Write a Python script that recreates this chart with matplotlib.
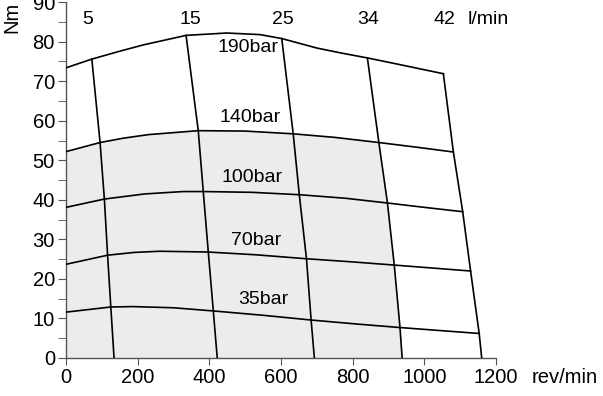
import numpy as np
import matplotlib.pyplot as plt
from matplotlib.ticker import MultipleLocator

plt.rcParams['font.family'] = ['Liberation Sans', 'DejaVu Sans']

# pressure curves: speed (rev/min) and torque (Nm)
p190_rpm = [0, 72, 150, 216, 335, 448, 541, 602, 700, 770, 841, 932, 1053]
p190_nm = [73.4, 75.6, 77.6, 79.2, 81.6, 82.2, 81.8, 80.8, 78.4, 77.1, 75.9, 74.2, 71.9]
p140_rpm = [0, 95, 160, 230, 369, 500, 634, 750, 873, 980, 1081]
p140_nm = [52.2, 54.5, 55.6, 56.5, 57.5, 57.4, 56.7, 55.8, 54.5, 53.3, 52.1]
p100_rpm = [0, 107, 220, 327, 383, 520, 651, 780, 897, 1000, 1107]
p100_nm = [38.1, 40.2, 41.5, 42.1, 42.1, 41.9, 41.3, 40.4, 39.2, 38.1, 37.0]
p70_rpm = [0, 116, 190, 262, 397, 530, 671, 800, 916, 1129]
p70_nm = [23.7, 26.0, 26.7, 27.0, 26.8, 26.1, 25.1, 24.3, 23.5, 22.0]
p35_rpm = [0, 125, 188, 300, 411, 550, 684, 810, 932, 1153]
p35_nm = [11.6, 12.9, 13.0, 12.7, 11.9, 10.8, 9.6, 8.6, 7.7, 6.2]

pressures = ['190bar', '140bar', '100bar', '70bar', '35bar']
label_pos = [(508, 78.5), (513, 60.8), (519, 45.6), (530, 29.6), (550, 14.7)]

# flow lines (l/min), from 190bar down to 0 Nm
flows = ['5', '15', '25', '34', '42']
f5_rpm = [72, 95, 107, 116, 125, 134]
f5_nm = [75.6, 54.5, 40.2, 26.0, 12.9, 0]
f15_rpm = [335, 369, 383, 397, 411, 422]
f15_nm = [81.6, 57.5, 42.1, 26.8, 11.9, 0]
f25_rpm = [602, 634, 651, 671, 684, 693]
f25_nm = [80.8, 56.7, 41.3, 25.1, 9.6, 0]
f34_rpm = [841, 873, 897, 916, 932, 938]
f34_nm = [75.9, 54.5, 39.2, 23.5, 7.7, 0]
f42_rpm = [1053, 1081, 1107, 1129, 1153, 1160]
f42_nm = [71.9, 52.1, 37.0, 22.0, 6.2, 0]
flow_label_x = [61, 346, 606, 843, 1055]

fig = plt.figure(figsize=(6.03, 3.96), dpi=100)
ax = fig.add_axes([0.1095, 0.096, 0.7131, 0.8985])

# shaded area: under 140bar, left of 34 l/min
n34 = p140_rpm.index(873)
sx = [0] + p140_rpm[:n34 + 1] + f34_rpm[2:]
sy = [0] + p140_nm[:n34 + 1] + f34_nm[2:]
ax.fill(sx, sy, color='#ebecec', lw=0, zorder=1)

curves = [(p190_rpm, p190_nm), (p140_rpm, p140_nm), (p100_rpm, p100_nm),
          (p70_rpm, p70_nm), (p35_rpm, p35_nm)]
for (x, y), name, pos in zip(curves, pressures, label_pos):
    ax.plot(x, y, color='black', lw=1.2, zorder=3)
    ax.text(pos[0], pos[1], name, ha='center', va='center', fontsize=14)

lines = [(f5_rpm, f5_nm), (f15_rpm, f15_nm), (f25_rpm, f25_nm),
         (f34_rpm, f34_nm), (f42_rpm, f42_nm)]
for (x, y) in lines:
    ax.plot(x, y, color='black', lw=1.2, zorder=3)
for name, fx in zip(flows, flow_label_x):
    ax.text(fx, 85.6, name, ha='center', va='center', fontsize=14)
ax.text(1122, 85.6, 'l/min', ha='left', va='center', fontsize=14)

ax.set_xlim(0, 1200)
ax.set_ylim(0, 90)
ax.set_xticks(range(0, 1201, 200))
ax.set_yticks(range(0, 91, 10))
ax.yaxis.set_minor_locator(MultipleLocator(5))
for s in ['top', 'right']:
    ax.spines[s].set_visible(False)
for s in ['left', 'bottom']:
    ax.spines[s].set_color('#555555')
    ax.spines[s].set_linewidth(1)
ax.tick_params(axis='both', which='both', color='#555555', labelsize=14.5)
ax.tick_params(axis='x', length=5, pad=2)
ax.tick_params(axis='y', which='both', length=6, pad=2)

ax.text(-0.126, 0.958, 'Nm', transform=ax.transAxes, rotation=90,
        ha='center', va='center', fontsize=14.5)
ax.annotate('rev/min', xy=(1300, 0), xycoords='data', xytext=(0, -14),
            textcoords='offset points', ha='left', va='center', fontsize=14.5,
            annotation_clip=False)

fig.savefig('out.png', dpi=100)
